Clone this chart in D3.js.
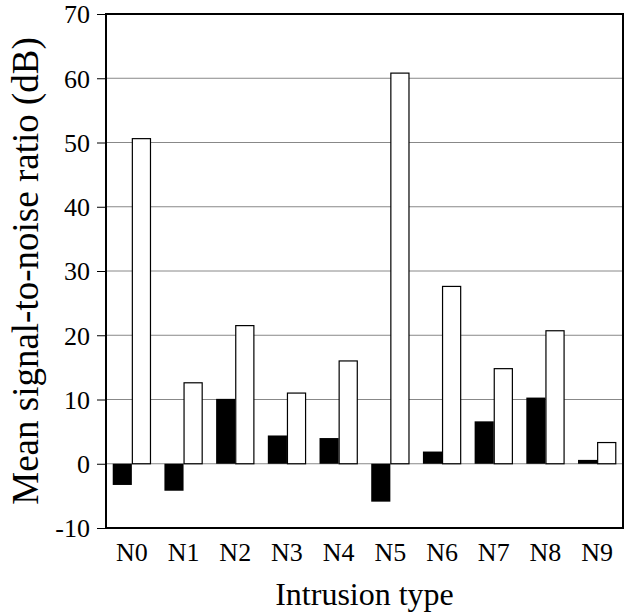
<!DOCTYPE html>
<html>
<head>
<meta charset="utf-8">
<script src="https://cdn.jsdelivr.net/npm/d3@7"></script>
<style>
  body { margin: 0; background: #fff; }
  svg text { font-family: "Liberation Serif", "Times New Roman", "DejaVu Serif", serif; fill: #000; }
</style>
</head>
<body>
<div id="chart"></div>
<script>
// Intrusion types and the two series (black and white bars)
const categories = ["N0", "N1", "N2", "N3", "N4", "N5", "N6", "N7", "N8", "N9"];
const blackValues = [-3.3, -4.2, 10.1, 4.4, 4.0, -5.9, 1.9, 6.6, 10.3, 0.6];
const whiteValues = [50.6, 12.6, 21.5, 11.0, 16.0, 60.8, 27.6, 14.8, 20.7, 3.3];
const yTicks = [-10, 0, 10, 20, 30, 40, 50, 60, 70];

const width = 627, height = 616;
const margin = { top: 14, right: 4, bottom: 88, left: 106 };
const innerW = width - margin.left - margin.right;
const innerH = height - margin.top - margin.bottom;

const svg = d3.select("#chart").append("svg")
  .attr("width", width)
  .attr("height", height);

const g = svg.append("g")
  .attr("transform", `translate(${margin.left},${margin.top})`);

const x = d3.scaleBand().domain(categories).range([0, innerW]).paddingInner(0.26).paddingOuter(0.13);
const x1 = d3.scaleBand().domain(["black", "white"]).range([0, x.bandwidth()]);
const y = d3.scaleLinear().domain([-10, 70]).range([innerH, 0]);

// grid lines
g.append("g")
  .selectAll("line")
  .data(yTicks.filter(t => t > -10 && t < 70))
  .enter().append("line")
  .attr("x1", 0).attr("x2", innerW)
  .attr("y1", d => y(d)).attr("y2", d => y(d))
  .attr("stroke", "#888")
  .attr("stroke-width", 1);

// bars
const rows = categories.map((c, i) => ({ c, black: blackValues[i], white: whiteValues[i] }));
const groups = g.append("g").selectAll("g")
  .data(rows)
  .enter().append("g")
  .attr("transform", d => `translate(${x(d.c)},0)`);

groups.append("rect")
  .attr("x", x1("black"))
  .attr("width", x1.bandwidth())
  .attr("y", d => y(Math.max(0, d.black)))
  .attr("height", d => Math.abs(y(d.black) - y(0)))
  .attr("fill", "#000");

groups.append("rect")
  .attr("x", x1("white") + 0.5)
  .attr("width", x1.bandwidth() - 1)
  .attr("y", d => y(Math.max(0, d.white)))
  .attr("height", d => Math.abs(y(d.white) - y(0)))
  .attr("fill", "#fff")
  .attr("stroke", "#000")
  .attr("stroke-width", 1.2);

// frame
g.append("rect")
  .attr("width", innerW).attr("height", innerH)
  .attr("fill", "none")
  .attr("stroke", "#000")
  .attr("stroke-width", 2);

// y axis
const yAxis = g.append("g")
  .call(d3.axisLeft(y).tickValues(yTicks).tickSize(9).tickPadding(7).tickFormat(d => String(d)));
yAxis.select(".domain").remove();
yAxis.selectAll(".tick line").attr("stroke", "#000").attr("stroke-width", 1);
yAxis.selectAll("text").style("font-size", "26px").attr("dy", "0.34em");

// x axis labels
const xAxis = g.append("g")
  .attr("transform", `translate(0,${innerH})`)
  .call(d3.axisBottom(x).tickSize(0).tickPadding(15));
xAxis.select(".domain").remove();
xAxis.selectAll("text").style("font-size", "26px").attr("dy", "0.71em");

// axis titles
svg.append("text")
  .attr("x", margin.left + innerW / 2)
  .attr("y", 605)
  .attr("text-anchor", "middle")
  .style("font-size", "32px")
  .text("Intrusion type");

svg.append("text")
  .attr("transform", `translate(38,${margin.top + innerH / 2}) rotate(-90)`)
  .attr("text-anchor", "middle")
  .style("font-size", "37px")
  .text("Mean signal-to-noise ratio (dB)");
</script>
</body>
</html>
